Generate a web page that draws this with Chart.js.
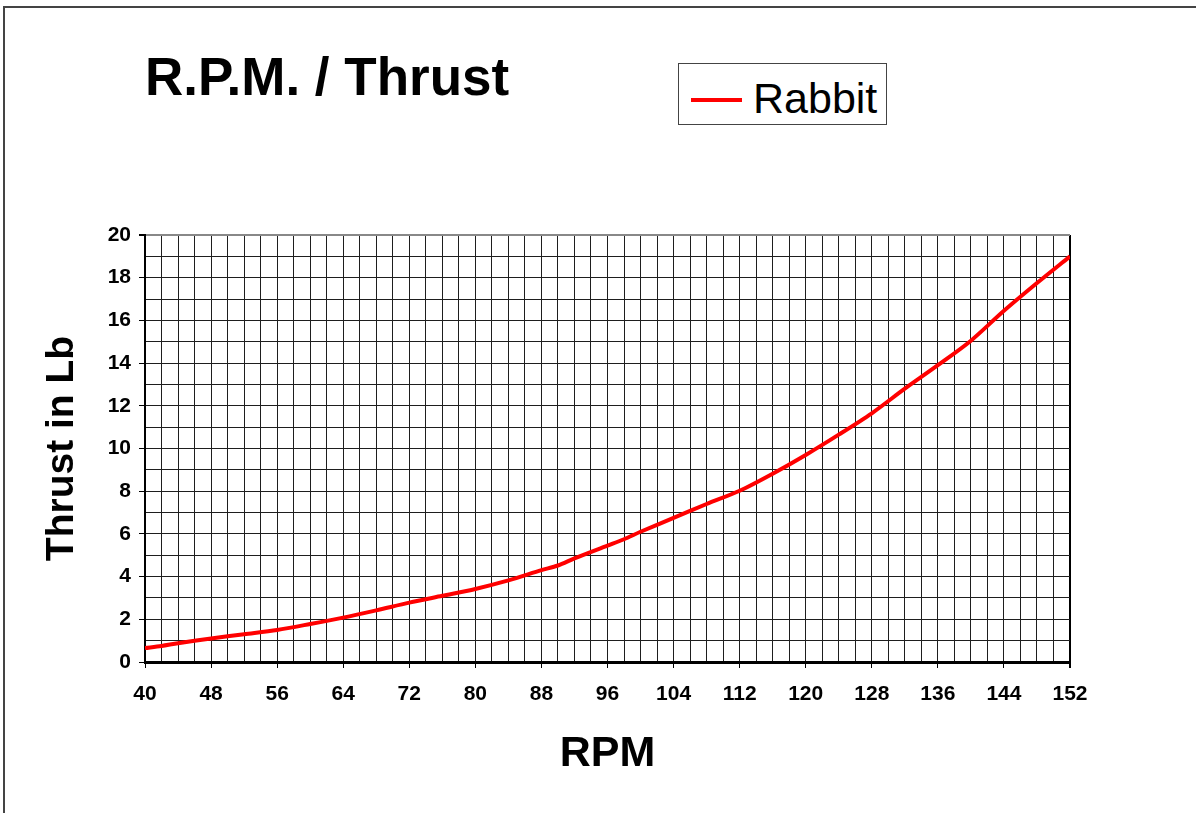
<!DOCTYPE html>
<html>
<head>
<meta charset="utf-8">
<script src="https://cdn.jsdelivr.net/npm/chart.js@4"></script>
<style>
  html, body { margin: 0; padding: 0; background: #fff; }
  #wrap { position: relative; width: 1196px; height: 813px; overflow: hidden; font-family: "Liberation Sans", Arial, sans-serif; }
  #frame { position: absolute; left: 3px; top: 6px; width: 1300px; height: 900px; border-top: 2px solid #444; border-left: 2px solid #444; }
  #titre { position: absolute; left: 145px; top: 50px; font-size: 53px; line-height: 53px; font-weight: bold; color: #000; white-space: nowrap; }
  #legende { position: absolute; left: 678px; top: 63px; width: 207px; height: 60px; border: 1px solid #444; background: #fff; }
  #legende .trait { position: absolute; left: 12px; top: 34px; width: 51px; height: 4px; background: #ff0000; }
  #legende .nom { position: absolute; left: 74px; top: 13px; font-size: 43px; line-height: 43px; color: #000; white-space: nowrap; }
  canvas { position: absolute; left: 0; top: 0; }
</style>
</head>
<body>
<div id="wrap">
  <div id="frame"></div>
  <canvas id="graficoTracao" width="1196" height="813"></canvas>
  <div id="titre">R.P.M. / Thrust</div>
  <div id="legende"><div class="trait"></div><div class="nom" id="nomSerie"></div></div>
</div>
<script>
// Dados
const rpm    = [40, 42, 44, 48, 52, 56, 60, 64, 68, 72, 76, 80, 84, 88, 90, 92, 96, 98, 100, 104, 108, 112, 116, 120, 124, 128, 132, 136, 140, 144, 148, 152];
const thrust = [0.65, 0.75, 0.88, 1.1, 1.3, 1.5, 1.78, 2.08, 2.42, 2.78, 3.1, 3.42, 3.82, 4.3, 4.52, 4.85, 5.45, 5.75, 6.1, 6.75, 7.4, 8.02, 8.82, 9.7, 10.65, 11.65, 12.8, 13.9, 15.05, 16.45, 17.75, 19.0];
const serieNome = 'Rabbit';
const xTicks = [40, 48, 56, 64, 72, 80, 88, 96, 104, 112, 120, 128, 136, 144, 152];
const yTicks = [0, 2, 4, 6, 8, 10, 12, 14, 16, 18, 20];

document.getElementById('nomSerie').innerText = serieNome;

const fonteTick = { family: '"Liberation Sans", Arial, sans-serif', size: 21, weight: 'bold' };

const ctx = document.getElementById('graficoTracao').getContext('2d');

const grafico = new Chart(ctx, {
    type: 'line',
    data: {
        datasets: [{
            label: serieNome,
            data: rpm.map((r, i) => ({ x: r, y: thrust[i] })),
            borderColor: '#ff0000',
            borderWidth: 4,
            pointRadius: 0,
            tension: 0.3,
            fill: false
        }]
    },
    options: {
        responsive: false,
        animation: false,
        layout: { padding: { top: 235, right: 126, left: 0, bottom: 0 } },
        plugins: {
            legend: { display: false },
            title: { display: false },
            tooltip: { enabled: false }
        },
        scales: {
            x: {
                type: 'linear',
                min: 40,
                max: 152,
                afterFit: (s) => { s.height = 151; },
                ticks: {
                    stepSize: 2,
                    autoSkip: false,
                    maxRotation: 0,
                    padding: 14,
                    color: '#000',
                    font: fonteTick,
                    callback: (v) => xTicks.includes(v) ? v : ''
                },
                grid: {
                    color: (c) => c.tick && c.tick.value === 152 ? '#000' : '#1e1e1e',
                    lineWidth: (c) => c.tick && c.tick.value === 152 ? 2 : 1,
                    tickLength: 6,
                    tickColor: (c) => c.tick && xTicks.includes(c.tick.value) ? '#000' : 'rgba(0,0,0,0)'
                },
                border: { color: '#000', width: 3 },
                title: {
                    display: true,
                    text: 'RPM',
                    color: '#000',
                    font: { family: '"Liberation Sans", Arial, sans-serif', size: 43, weight: 'bold' },
                    padding: { top: 0, bottom: 33 }
                }
            },
            y: {
                min: 0,
                max: 20,
                afterFit: (s) => { s.width = 145; },
                ticks: {
                    stepSize: 1,
                    autoSkip: false,
                    padding: 8,
                    color: '#000',
                    font: fonteTick,
                    callback: (v) => yTicks.includes(v) ? v : ''
                },
                grid: {
                    color: (c) => c.tick && c.tick.value === 20 ? '#888' : '#1e1e1e',
                    lineWidth: (c) => c.tick && c.tick.value === 20 ? 2 : 1,
                    tickLength: 6,
                    tickColor: (c) => c.tick && yTicks.includes(c.tick.value) ? '#000' : 'rgba(0,0,0,0)'
                },
                border: { color: '#000', width: 2 },
                title: {
                    display: true,
                    text: 'Thrust in Lb',
                    color: '#000',
                    font: { family: '"Liberation Sans", Arial, sans-serif', size: 39, weight: 'bold' },
                    padding: { top: 39, bottom: 0 }
                }
            }
        }
    }
});
</script>
</body>
</html>
